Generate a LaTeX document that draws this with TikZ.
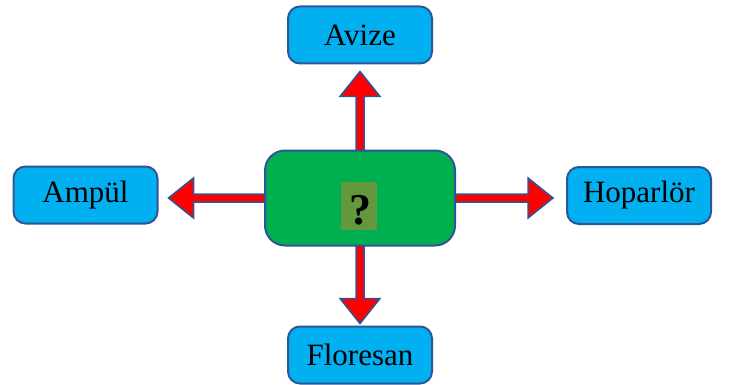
\documentclass[tikz,border=0pt]{standalone}
\usepackage{fontspec}
\setmainfont{Liberation Serif}
\usetikzlibrary{calc}

\definecolor{boxblue}{RGB}{0,176,240}
\definecolor{edgeblue}{RGB}{47,85,151}
\definecolor{boxgreen}{RGB}{0,176,80}
\definecolor{patch}{RGB}{100,152,60}

% fat arrow from #1 towards #2, tip stops #3 short of #2
\newcommand{\blockarrow}[3]{%
  \path (#1) coordinate (s) ($(#2)!#3!(#1)$) coordinate (e);
  \path ($(e)!25pt!(s)$) coordinate (b);
  \filldraw[arr] ($(s)!4pt!90:(e)$) -- ($(b)!4pt!90:(e)$) -- ($(b)!20pt!90:(e)$)
     -- (e) -- ($(b)!20pt!-90:(e)$) -- ($(b)!4pt!-90:(e)$) -- ($(s)!4pt!-90:(e)$) -- cycle;
}

\begin{document}
\begin{tikzpicture}[x=1pt, y=-1pt]

\tikzstyle{item}=[draw=edgeblue, line width=2pt, fill=boxblue, rounded corners=12pt,
  minimum width=144pt, minimum height=57pt, font=\fontsize{31}{36}\selectfont]
\tikzstyle{arr}=[draw=edgeblue, line width=1.5pt, fill=red, line join=miter]

\useasboundingbox (0,0) rectangle (730,385);

\node[item] (avize) at (360,35)    {Avize};
\node[item] (ampul) at (85.5,195)  {Ampül};
\node[item] (hop)   at (639,195.5) {Hoparlör};
\node[item] (flor)  at (360,355)   {Floresan};

\path (360,198) coordinate (c);
\blockarrow{c}{avize.south}{7pt}
\blockarrow{c}{ampul.east |- c}{10pt}
\blockarrow{c}{hop.west |- c}{13pt}
\blockarrow{c}{flor.north}{2pt}

\node[draw=edgeblue, line width=2pt, fill=boxgreen, rounded corners=20pt,
  minimum width=190pt, minimum height=95pt] (q) at (c) {};
\node[fill=patch, minimum width=36pt, minimum height=48pt] (qp) at (359,206) {};
\node[font=\bfseries\fontsize{44}{48}\selectfont] (qm) at (360,210) {?};

\end{tikzpicture}
\end{document}
